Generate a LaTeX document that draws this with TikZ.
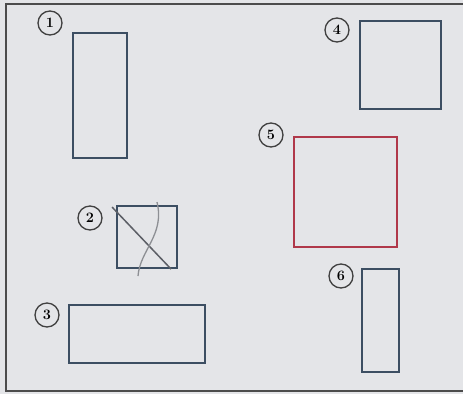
\documentclass[tikz,border=0pt]{standalone}
\usepackage{xcolor}
\usepackage{tikz}
\usetikzlibrary{positioning}

\definecolor{paper}{HTML}{E4E5E8}
\definecolor{inkblue}{HTML}{3C4E62}
\definecolor{inkred}{HTML}{B0384A}
\definecolor{pencil}{HTML}{5C5F66}

\begin{document}
\begin{tikzpicture}[
    x=1pt, y=-1pt,
    shapebox/.style={draw=inkblue, line width=1.8pt, minimum width=#1, inner sep=0pt},
    numcircle/.style={draw=black!75, circle, line width=1.3pt, minimum size=24pt, inner sep=0pt, font=\Large\bfseries},
    frameline/.style={draw=black!70, line width=1.6pt}
]
    \useasboundingbox[fill=paper] (0,0) rectangle (463,394);
    \draw[frameline] (470,4) -- (6,4) -- (6,391) -- (470,391);

    \node[shapebox=54pt, minimum height=125pt] (r1) at (100,95.5) {};
    \node[shapebox=60pt, minimum height=62pt] (r2) at (147,237) {};
    \node[shapebox=136pt, minimum height=58pt] (r3) at (137,334) {};
    \node[shapebox=81pt, minimum height=88pt] (r4) at (400.5,65) {};
    \node[shapebox=103pt, minimum height=110pt, draw=inkred] (r5) at (345.5,192) {};
    \node[shapebox=37pt, minimum height=103pt] (r6) at (380.5,320.5) {};

    \node[numcircle] (n1) at (50,23) {1};
    \node[numcircle] (n2) at (90,218) {2};
    \node[numcircle] (n3) at (47,315) {3};
    \node[numcircle] (n4) at (337,30) {4};
    \node[numcircle] (n5) at (271,135) {5};
    \node[numcircle] (n6) at (341,276) {6};

    % pencil cross over box 2
    \draw[pencil, line width=1.5pt] (r2.north west) ++(-4,2) -- ++(59,62);
    \draw[pencil!70, line width=1.3pt] (r2.north) ++(10,-3) .. controls (165,235) and (140,250) .. (138,276);
\end{tikzpicture}
\end{document}
